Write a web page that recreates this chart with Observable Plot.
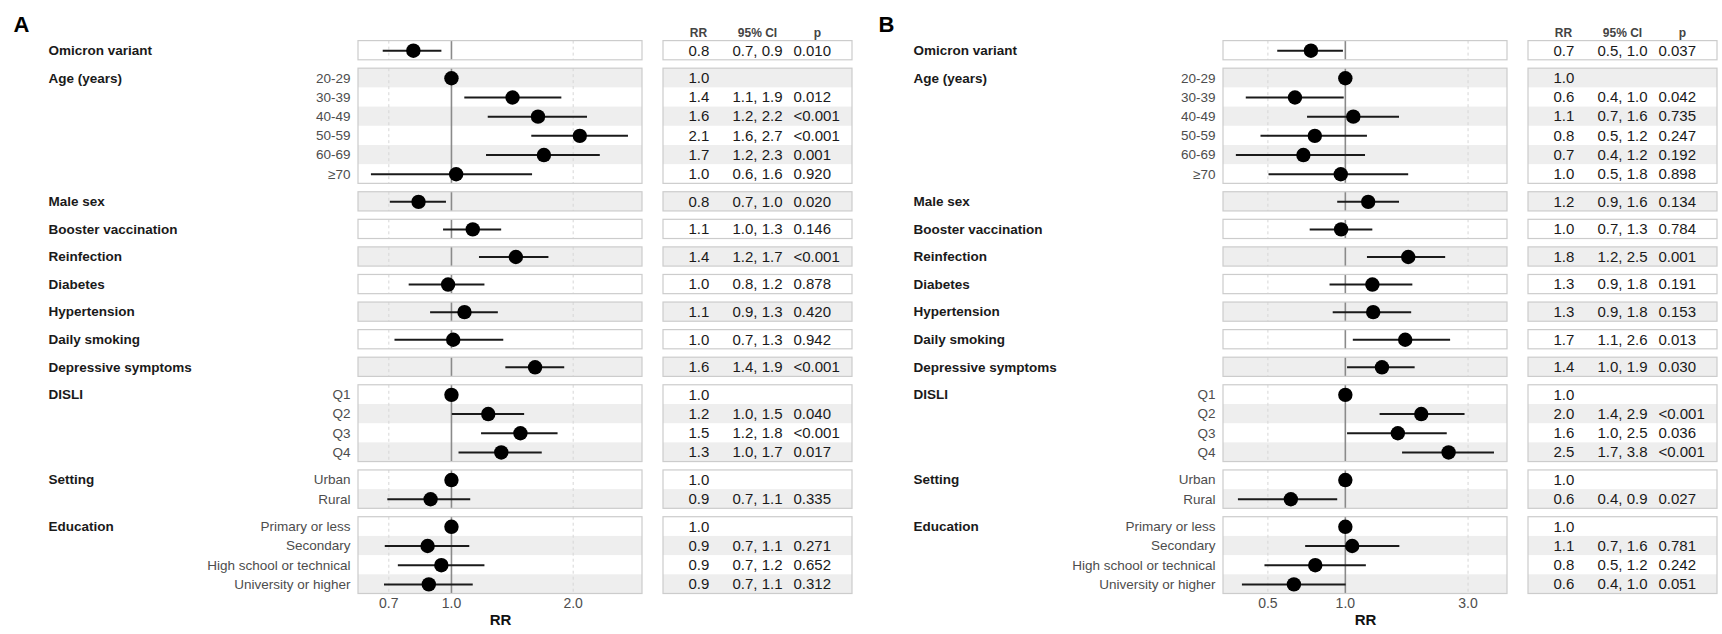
<!DOCTYPE html>
<html>
<head>
<meta charset="utf-8">
<script src="https://cdn.jsdelivr.net/npm/d3@7"></script>
<script src="https://cdn.jsdelivr.net/npm/@observablehq/plot@0.6"></script>
<style>
html, body { margin: 0; padding: 0; background: #ffffff; }
#fig { position: relative; width: 1722px; height: 634px; overflow: hidden; background: #fff; }
#fig svg { position: absolute; top: 0; }
</style>
</head>
<body>
<div id="fig"></div>
<script>
// ---------------- DATA ----------------
const rowGroup = [
  "Omicron variant",
  "Age (years)", "Age (years)", "Age (years)", "Age (years)", "Age (years)", "Age (years)",
  "Male sex", "Booster vaccination", "Reinfection", "Diabetes", "Hypertension",
  "Daily smoking", "Depressive symptoms",
  "DISLI", "DISLI", "DISLI", "DISLI",
  "Setting", "Setting",
  "Education", "Education", "Education", "Education"
];
const rowLabel = [
  "",
  "20-29", "30-39", "40-49", "50-59", "60-69", "≥70",
  "", "", "", "", "", "", "",
  "Q1", "Q2", "Q3", "Q4",
  "Urban", "Rural",
  "Primary or less", "Secondary", "High school or technical", "University or higher"
];

// Panel A (estimates)
const rrA = [0.805, 1.0, 1.416, 1.637, 2.077, 1.693, 1.027, 0.829, 1.129, 1.443, 0.981, 1.077, 1.01, 1.61, 1.0, 1.233, 1.481, 1.328, 1.0, 0.888, 1.0, 0.873, 0.944, 0.879];
const loA = [0.678, null, 1.079, 1.233, 1.58, 1.221, 0.634, 0.706, 0.956, 1.173, 0.786, 0.888, 0.725, 1.363, null, 1.005, 1.187, 1.044, null, 0.696, null, 0.686, 0.739, 0.683];
const hiA = [0.947, null, 1.875, 2.17, 2.74, 2.334, 1.587, 0.972, 1.331, 1.742, 1.21, 1.306, 1.347, 1.906, null, 1.517, 1.835, 1.677, null, 1.116, null, 1.11, 1.21, 1.132];
const tabRRA = ["0.8","1.0","1.4","1.6","2.1","1.7","1.0","0.8","1.1","1.4","1.0","1.1","1.0","1.6","1.0","1.2","1.5","1.3","1.0","0.9","1.0","0.9","0.9","0.9"];
const tabCIA = ["0.7, 0.9","","1.1, 1.9","1.2, 2.2","1.6, 2.7","1.2, 2.3","0.6, 1.6","0.7, 1.0","1.0, 1.3","1.2, 1.7","0.8, 1.2","0.9, 1.3","0.7, 1.3","1.4, 1.9","","1.0, 1.5","1.2, 1.8","1.0, 1.7","","0.7, 1.1","","0.7, 1.1","0.7, 1.2","0.7, 1.1"];
const tabPA = ["0.010","","0.012","<0.001","<0.001","0.001","0.920","0.020","0.146","<0.001","0.878","0.420","0.942","<0.001","","0.040","<0.001","0.017","","0.335","","0.271","0.652","0.312"];
const ticksA = [0.7, 1.0, 2.0];
const domainA = [0.589, 2.968];

// Panel B
const rrB = [0.735, 1.0, 0.637, 1.074, 0.761, 0.687, 0.96, 1.227, 0.963, 1.756, 1.274, 1.283, 1.709, 1.388, 1.0, 1.973, 1.60, 2.52, 1.0, 0.614, 1.0, 1.063, 0.764, 0.631];
const loB = [0.546, null, 0.412, 0.713, 0.470, 0.377, 0.505, 0.934, 0.730, 1.219, 0.872, 0.897, 1.074, 1.02, null, 1.365, 1.02, 1.669, null, 0.384, null, 0.701, 0.487, 0.398];
const hiB = [0.983, null, 0.99, 1.624, 1.219, 1.198, 1.763, 1.624, 1.279, 2.455, 1.83, 1.811, 2.566, 1.868, null, 2.92, 2.49, 3.8, null, 0.934, null, 1.629, 1.207, 1.007];
const tabRRB = ["0.7","1.0","0.6","1.1","0.8","0.7","1.0","1.2","1.0","1.8","1.3","1.3","1.7","1.4","1.0","2.0","1.6","2.5","1.0","0.6","1.0","1.1","0.8","0.6"];
const tabCIB = ["0.5, 1.0","","0.4, 1.0","0.7, 1.6","0.5, 1.2","0.4, 1.2","0.5, 1.8","0.9, 1.6","0.7, 1.3","1.2, 2.5","0.9, 1.8","0.9, 1.8","1.1, 2.6","1.0, 1.9","","1.4, 2.9","1.0, 2.5","1.7, 3.8","","0.4, 0.9","","0.7, 1.6","0.5, 1.2","0.4, 1.0"];
const tabPB = ["0.037","","0.042","0.735","0.247","0.192","0.898","0.134","0.784","0.001","0.191","0.153","0.013","0.030","","<0.001","0.036","<0.001","","0.027","","0.781","0.242","0.051"];
const ticksB = [0.5, 1.0, 3.0];
const domainB = [0.336, 4.27];

const tableHeaders = ["RR", "95% CI", "p"];

// ---------------- LAYOUT ----------------
const FONT = "'Liberation Sans', Arial, Helvetica, sans-serif";
const H = 634, TOP = 40.6, BOTTOM = 593.5;
const GAP = 0.4365;              // gap between group panels, in row units
const STRIPE = "#eeeeee", BORDER = "#cccccc";
const forestW = 652, forestML = 358, forestMR = 10;
const tableW = 205, tableML = 11, tableInner = 189;
const colValX = [25, 69, 130];   // left edges of table value columns
const colHeadX = [35, 94, 154];  // centers of table headers
const fmt1 = d3.format(".1f");

// row positions (in row units)
let pos = 0;
const rowsBase = rowGroup.map((g, i) => {
  if (i > 0 && g !== rowGroup[i - 1]) pos += GAP;
  const r = {i, group: g, label: rowLabel[i], y0: pos, y1: pos + 1, yc: pos + 0.5};
  pos += 1;
  return r;
});
const T = pos;
const groupsData = [];
rowsBase.forEach(r => {
  const last = groupsData[groupsData.length - 1];
  if (!last || last.name !== r.group) groupsData.push({name: r.group, y0: r.y0, y1: r.y1, yc: r.yc});
  else last.y1 = r.y1;
});

const yScale = {domain: [0, T], range: [TOP, BOTTOM], axis: null};

function panel(letter, offset, rr, lo, hi, tRR, tCI, tP, domain, ticks) {
  const rows = rowsBase.map(r => ({...r, rr: rr[r.i], lo: lo[r.i], hi: hi[r.i], tRR: tRR[r.i], tCI: tCI[r.i], tP: tP[r.i]}));
  const stripes = rows.filter(r => r.i % 2 === 1);
  const grid = [];
  groupsData.forEach(g => ticks.filter(t => t !== 1).forEach(t => grid.push({x: t, y0: g.y0, y1: g.y1})));

  const forest = Plot.plot({
    width: forestW, height: H,
    marginLeft: forestML, marginRight: forestMR, marginTop: TOP, marginBottom: H - BOTTOM,
    style: {fontFamily: FONT, background: "transparent", overflow: "visible"},
    x: {type: "log", domain, axis: null},
    y: yScale,
    marks: [
      Plot.rect(stripes, {x1: domain[0], x2: domain[1], y1: "y0", y2: "y1", fill: STRIPE}),
      Plot.ruleX(grid, {x: "x", y1: "y0", y2: "y1", stroke: "#d6d6d6", strokeWidth: 1, strokeDasharray: "3,3"}),
      Plot.ruleX(groupsData, {x: 1, y1: "y0", y2: "y1", stroke: "#8a8a8a", strokeWidth: 1.6}),
      Plot.rect(groupsData, {x1: domain[0], x2: domain[1], y1: "y0", y2: "y1", fill: "none", stroke: BORDER, strokeWidth: 1.2}),
      Plot.ruleY(rows.filter(r => r.lo != null), {y: "yc", x1: "lo", x2: "hi", stroke: "#1a1a1a", strokeWidth: 2}),
      Plot.dot(rows, {x: "rr", y: "yc", r: 7.2, fill: "#000000", stroke: "none"}),
      Plot.text(rows.filter(r => r.label), {y: "yc", text: "label", frameAnchor: "left", dx: -8, textAnchor: "end", fill: "#4d4d4d", fontSize: 13.5}),
      Plot.text(groupsData, {y: "yc", text: "name", frameAnchor: "left", dx: 48 - forestML, textAnchor: "start", fill: "#1a1a1a", fontSize: 13.5, fontWeight: "bold"}),
      // x tick labels
      Plot.text(ticks, {x: d => d, text: d => fmt1(d), frameAnchor: "bottom", dy: 14, fontSize: 14, fill: "#4d4d4d"}),
      Plot.text(["RR"], {text: d => d, frameAnchor: "bottom", dy: 31, fontSize: 15, fontWeight: "bold", fill: "#111"}),
      Plot.text([letter], {text: d => d, frameAnchor: "top-left", dx: 13 - forestML, dy: -9, lineAnchor: "bottom", textAnchor: "start", fontSize: 22, fontWeight: "bold", fill: "#000"})
    ]
  });
  forest.style.left = offset + "px";

  const table = Plot.plot({
    width: tableW, height: H,
    marginLeft: tableML, marginRight: tableW - tableML - tableInner, marginTop: TOP, marginBottom: H - BOTTOM,
    style: {fontFamily: FONT, background: "transparent", overflow: "visible"},
    x: {domain: [0, tableInner], range: [tableML, tableML + tableInner], axis: null},
    y: yScale,
    marks: [
      Plot.rect(stripes, {x1: 0, x2: tableInner, y1: "y0", y2: "y1", fill: STRIPE}),
      Plot.rect(groupsData, {x1: 0, x2: tableInner, y1: "y0", y2: "y1", fill: "none", stroke: BORDER, strokeWidth: 1.2}),
      Plot.text(rows, {x: colValX[0], y: "yc", text: "tRR", textAnchor: "start", fontSize: 15, fill: "#1a1a1a"}),
      Plot.text(rows.filter(r => r.tCI), {x: colValX[1], y: "yc", text: "tCI", textAnchor: "start", fontSize: 15, fill: "#1a1a1a"}),
      Plot.text(rows.filter(r => r.tP), {x: colValX[2], y: "yc", text: "tP", textAnchor: "start", fontSize: 15, fill: "#1a1a1a"}),
      Plot.text(tableHeaders, {x: (d, i) => colHeadX[i], text: d => d, frameAnchor: "top", dy: -12.5, textAnchor: "middle", fontSize: 12, fontWeight: "bold", fill: "#444"})
    ]
  });
  table.style.left = (offset + forestW) + "px";

  const fig = document.getElementById("fig");
  fig.appendChild(forest);
  fig.appendChild(table);
}

panel("A", 0, rrA, loA, hiA, tabRRA, tabCIA, tabPA, domainA, ticksA);
panel("B", 865, rrB, loB, hiB, tabRRB, tabCIB, tabPB, domainB, ticksB);
</script>
</body>
</html>
